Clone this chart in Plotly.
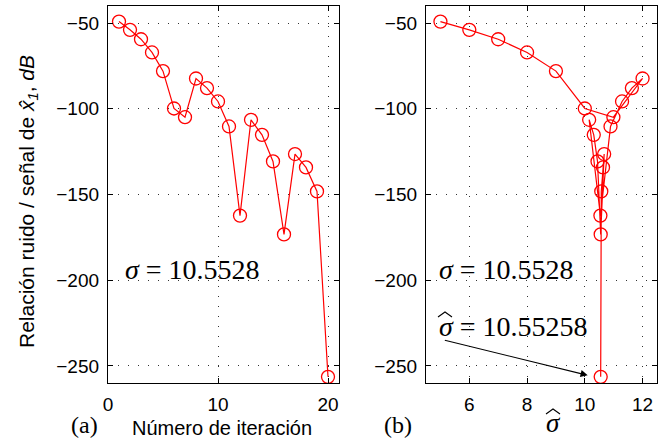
import plotly.graph_objects as go

iterations = list(range(1, 21))
snr_db = [-49.1, -53.9, -59.4, -67.1, -78.0, -99.8, -104.9, -82.3, -87.9, -95.7,
          -110.3, -162.3, -106.4, -115.2, -130.7, -173.3, -126.4, -134.2, -148.2, -256.4]
sigma_hat = [5.0, 6.0, 7.0, 8.0, 9.0, 10.0, 10.99, 12.0, 11.63, 11.29,
             10.89, 10.54, 10.15, 10.31, 10.44, 10.55, 10.67, 10.63, 10.57, 10.55]

left_xticks = [0, 10, 20]
right_xticks = [6, 8, 10, 12]
yticks = [-250, -200, -150, -100, -50]

RED = "#ff0000"
SANS = "Liberation Sans, Arial, sans-serif"
SERIF = "Liberation Serif, Times New Roman, serif"

fig = go.Figure()
marker = dict(symbol="circle-open", size=13, color=RED, line=dict(width=1.3, color=RED))
fig.add_trace(go.Scatter(x=iterations, y=snr_db, mode="lines+markers",
                         line=dict(color=RED, width=1.2), marker=marker,
                         xaxis="x", yaxis="y", showlegend=False))
fig.add_trace(go.Scatter(x=sigma_hat, y=snr_db, mode="lines+markers",
                         line=dict(color=RED, width=1.2), marker=marker,
                         xaxis="x2", yaxis="y2", showlegend=False))

W, H = 658, 441
def px_x(p):
    return p / W
def px_y(p):
    return 1 - p / H

axis_common = dict(showline=True, linecolor="black", linewidth=1.3, mirror="allticks",
                   ticks="inside", ticklen=5, tickcolor="black", tickwidth=1,
                   showgrid=True, gridcolor="#333333", gridwidth=1, griddash="1px,9px",
                   zeroline=False, automargin=False, ticklabelstandoff=4,
                   tickfont=dict(family=SANS, size=19, color="black"))

fig.update_layout(
    width=W, height=H,
    margin=dict(l=0, r=0, t=0, b=0),
    paper_bgcolor="white", plot_bgcolor="white",
    xaxis=dict(domain=[px_x(108), px_x(339)], range=[0, 21], tickvals=left_xticks,
               anchor="y", **axis_common),
    yaxis=dict(domain=[px_y(383), px_y(6)], range=[-260, -40], tickvals=yticks,
               tickformat="d", anchor="x", **axis_common),
    xaxis2=dict(domain=[px_x(426), px_x(657)], range=[4.5, 12.5], tickvals=right_xticks,
                anchor="y2", **axis_common),
    yaxis2=dict(domain=[px_y(383), px_y(6)], range=[-260, -40], tickvals=yticks,
                tickformat="d", anchor="x2", **axis_common),
)

def paper_text(text, cx, cy, family, size, angle=0):
    return dict(text=text, x=px_x(cx), y=px_y(cy), xref="paper", yref="paper",
                xanchor="center", yanchor="middle", textangle=angle, showarrow=False,
                font=dict(family=family, size=size, color="black"))

ann = []
ann.append(paper_text("Relación ruido / señal de <i>x̂</i><sub><i>1</i></sub>, <i>dB</i>",
                      28, 202, SANS, 21, -90))
ann.append(paper_text("Número de iteración", 222, 428, SANS, 20))
ann.append(paper_text("<i>σ</i>", 553, 423, SERIF, 27))
ann.append(paper_text("(a)", 84, 425, SERIF, 24))
ann.append(paper_text("(b)", 398, 425, SERIF, 24))
ann.append(dict(text="<i>σ</i> = 10.5528", x=1.4, y=-194, xref="x", yref="y",
                xanchor="left", yanchor="middle", showarrow=False,
                font=dict(family=SERIF, size=28, color="black")))
ann.append(dict(text="<i>σ</i> = 10.5528", x=4.87, y=-194, xref="x2", yref="y2",
                xanchor="left", yanchor="middle", showarrow=False,
                font=dict(family=SERIF, size=28, color="black")))
ann.append(dict(text="<i>σ</i> = 10.55258", x=4.87, y=-227, xref="x2", yref="y2",
                xanchor="left", yanchor="middle", showarrow=False,
                font=dict(family=SERIF, size=28, color="black")))
ann.append(dict(text="", x=10.1, y=-255.5, xref="x2", yref="y2",
                ax=5.1, ay=-234.8, axref="x2", ayref="y2", showarrow=True,
                arrowhead=2, arrowsize=1.3, arrowwidth=1.1, arrowcolor="black"))
fig.update_layout(annotations=ann)

# wide hats over sigma (drawn as thin strokes)
def hat(cx, top):
    return dict(type="path", xref="paper", yref="paper",
                path=f"M {px_x(cx-7)},{px_y(top+5)} L {px_x(cx)},{px_y(top)} L {px_x(cx+7)},{px_y(top+5)}",
                line=dict(color="black", width=1.1))
fig.update_layout(shapes=[hat(553, 409), hat(445, 312)])

fig.write_html("out.html", config={"displayModeBar": False},
               post_script="document.body.style.margin='0';document.body.style.padding='0';")
